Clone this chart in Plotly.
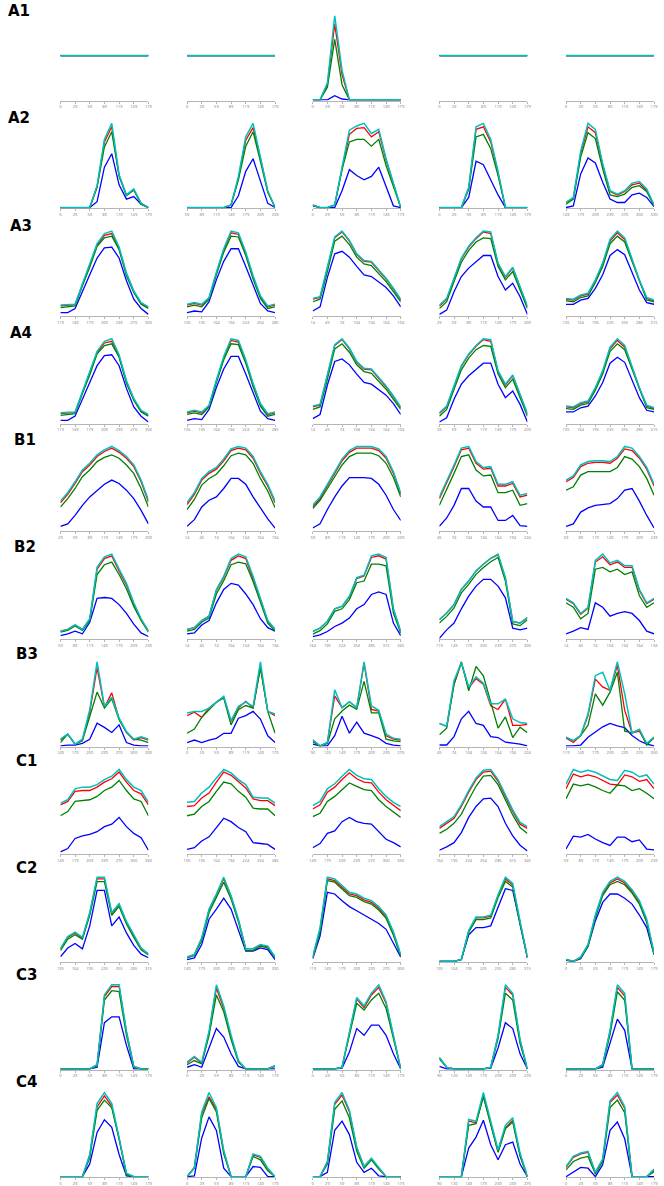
import plotly.graph_objects as go

W, H = 664, 1186

ROW_NAMES = ["A1", "A2", "A3", "A4", "B1", "B2", "B3", "C1", "C2", "C3", "C4"]
SAMPLE_IDX = [0, 1, 2, 3, 4, 5, 6, 7, 8, 9, 10, 11, 12]
TICK_POS = [0, 2, 4, 6, 8, 10, 12]
ZERO = [0, 0, 0, 0, 0, 0, 0, 0, 0, 0, 0, 0, 0]

# ---- tick label sets ----
T_0 = ["0", "29", "59", "89", "119", "149", "179"]
T_14 = ["14", "45", "74", "104", "134", "164", "194"]
T_29 = ["29", "59", "89", "119", "149", "179", "209"]
T_45 = ["45", "74", "104", "134", "164", "194", "224"]
T_59 = ["59", "89", "119", "149", "179", "209", "239"]
T_90 = ["90", "120", "149", "179", "209", "239", "270"]
T_105 = ["105", "135", "164", "194", "224", "254", "285"]
T_119 = ["119", "149", "179", "209", "239", "270", "300"]
T_135 = ["135", "164", "195", "225", "255", "285", "315"]
T_149 = ["149", "179", "209", "239", "270", "300", "330"]
T_164 = ["164", "195", "224", "254", "285", "315", "345"]

TICKS = {
    "A1": [T_0, T_0, T_0, T_0, T_0],
    "A2": [T_0, T_59, T_0, T_0, T_149],
    "A3": [T_119, T_105, T_14, T_29, T_135],
    "A4": [T_119, T_105, T_14, T_29, T_135],
    "B1": [T_29, T_14, T_59, T_45, T_59],
    "B2": [T_59, T_14, T_164, T_119, T_14],
    "B3": [T_149, T_0, T_90, T_45, T_119],
    "C1": [T_149, T_105, T_149, T_164, T_59],
    "C2": [T_135, T_149, T_119, T_135, T_0],
    "C3": [T_0, T_0, T_0, T_90, T_0],
    "C4": [T_0, T_0, T_0, T_90, T_0],
}

# ---- data: each row has 4 series (cyan, red, green, blue), 5 panels each ----
A1_CYAN = [ZERO, ZERO, [0, 0, 20, 100, 35, 0, 0, 0, 0, 0, 0, 0, 0], ZERO, ZERO]
A1_RED = [ZERO, ZERO, [0, 0, 18, 90, 30, 0, 0, 0, 0, 0, 0, 0, 0], ZERO, ZERO]
A1_GREEN = [ZERO, ZERO, [0, 0, 15, 72, 18, 0, 0, 0, 0, 0, 0, 0, 0], ZERO, ZERO]
A1_BLUE = [ZERO, ZERO, [0, 0, 0, 5, 1, 0, 0, 0, 0, 0, 0, 0, 0], ZERO, ZERO]

A2_CYAN = [
    [0, 0, 0, 0, 0, 26, 81, 100, 39, 15, 22, 5, 0],
    [0, 0, 0, 0, 0, 0, 3, 37, 84, 100, 60, 20, 0],
    [3, 0, 0, 3, 48, 92, 97, 100, 88, 93, 58, 30, 0],
    [0, 0, 0, 0, 24, 96, 100, 81, 43, 0, 0, 0, 0],
    [6, 12, 67, 100, 93, 52, 20, 16, 20, 29, 31, 22, 3],
]
A2_RED = [
    [0, 0, 0, 0, 0, 25, 78, 96, 38, 15, 21, 5, 0],
    [0, 0, 0, 0, 0, 0, 3, 35, 80, 95, 58, 19, 0],
    [3, 0, 0, 3, 46, 87, 94, 95, 84, 90, 56, 28, 0],
    [0, 0, 0, 0, 23, 93, 96, 78, 41, 0, 0, 0, 0],
    [6, 11, 64, 96, 89, 50, 19, 15, 19, 27, 29, 20, 3],
]
A2_GREEN = [
    [0, 0, 0, 0, 0, 24, 72, 90, 37, 14, 21, 4, 0],
    [0, 0, 0, 0, 0, 0, 3, 33, 73, 90, 55, 18, 0],
    [3, 0, 0, 3, 45, 78, 81, 81, 73, 81, 50, 25, 0],
    [0, 0, 0, 0, 22, 84, 87, 70, 38, 0, 0, 0, 0],
    [4, 10, 60, 89, 82, 46, 15, 13, 16, 24, 26, 19, 2],
]
A2_BLUE = [
    [0, 0, 0, 0, 0, 7, 48, 64, 27, 10, 13, 4, 0],
    [0, 0, 0, 0, 0, 0, 0, 14, 43, 58, 32, 5, 0],
    [2, 0, 0, 0, 20, 45, 38, 33, 37, 48, 25, 2, 0],
    [0, 0, 0, 0, 12, 55, 51, 33, 15, 0, 0, 0, 0],
    [0, 2, 40, 59, 53, 30, 10, 6, 6, 15, 17, 12, 1],
]

A3_CYAN = [
    [12, 12.5, 13, 37, 60, 85, 97, 100, 81, 50, 29, 15, 10],
    [13, 15, 13, 21, 51, 79, 100, 98, 75, 47, 23, 11, 13],
    [20, 22, 57, 93, 100, 89, 73, 65, 64, 54, 44, 32, 19],
    [12, 20, 44, 68, 82, 92, 100, 99, 62, 46, 57, 34, 11],
    [20, 19, 24, 26, 42, 62, 90, 100, 92, 68, 42, 21, 18],
]
A3_RED = [
    [11, 12, 12.5, 36, 59, 83, 95, 97, 79, 49, 28, 14, 9],
    [12, 14, 12, 20, 50, 77, 98, 96, 73, 45, 22, 10, 12],
    [19, 21, 56, 92, 99, 88, 72, 64, 63, 53, 43, 31, 18],
    [11, 19, 43, 67, 81, 91, 99, 97, 61, 45, 56, 33, 10],
    [19, 18, 23, 25, 41, 61, 88, 98, 90, 66, 41, 20, 17],
]
A3_GREEN = [
    [9, 10, 11, 35, 57, 82, 92, 94, 78, 47, 27, 13, 8],
    [10, 12, 10, 19, 48, 75, 94, 93, 71, 43, 20, 8, 10],
    [16, 19, 52, 88, 94, 84, 69, 61, 59, 50, 40, 28, 16],
    [8, 16, 40, 63, 77, 87, 92, 91, 58, 42, 52, 30, 8],
    [17, 16, 21, 23, 39, 58, 85, 94, 87, 64, 39, 18, 16],
]
A3_BLUE = [
    [3, 3, 8, 27, 48, 68, 80, 81, 68, 41, 19, 8, 1],
    [3, 5, 4, 16, 42, 64, 79, 79, 58, 36, 14, 5, 3],
    [5, 10, 45, 73, 76, 69, 58, 48, 46, 40, 33, 23, 10],
    [1, 6, 28, 46, 56, 63, 71, 71, 46, 30, 38, 22, 1],
    [13, 13, 18, 20, 32, 48, 71, 78, 72, 50, 30, 15, 13],
]

A4_CYAN = [
    [12, 12.5, 13, 37, 60, 85, 97, 100, 81, 50, 29, 15, 10],
    [13, 15, 13, 21, 51, 79, 100, 98, 75, 47, 23, 11, 13],
    [20, 22, 57, 93, 100, 89, 73, 65, 64, 54, 44, 32, 19],
    [12, 20, 44, 68, 82, 92, 100, 99, 62, 46, 57, 34, 11],
    [20, 19, 24, 26, 42, 62, 90, 100, 92, 68, 42, 21, 18],
]
A4_RED = [
    [11, 12, 12.5, 36, 59, 83, 95, 97, 79, 49, 28, 14, 9],
    [12, 14, 12, 20, 50, 77, 98, 96, 73, 45, 22, 10, 12],
    [19, 21, 56, 92, 99, 88, 72, 64, 63, 53, 43, 31, 18],
    [11, 19, 43, 67, 81, 91, 99, 97, 61, 45, 56, 33, 10],
    [19, 18, 23, 25, 41, 61, 88, 98, 90, 66, 41, 20, 17],
]
A4_GREEN = [
    [9, 10, 11, 35, 57, 82, 92, 94, 78, 47, 27, 13, 8],
    [10, 12, 10, 19, 48, 75, 94, 93, 71, 43, 20, 8, 10],
    [16, 19, 52, 88, 94, 84, 69, 61, 59, 50, 40, 28, 16],
    [8, 16, 40, 63, 77, 87, 92, 91, 58, 42, 52, 30, 8],
    [17, 16, 21, 23, 39, 58, 85, 94, 87, 64, 39, 18, 16],
]
A4_BLUE = [
    [3, 3, 8, 27, 48, 68, 80, 81, 68, 41, 19, 8, 1],
    [3, 5, 4, 16, 42, 64, 79, 79, 58, 36, 14, 5, 3],
    [5, 10, 45, 73, 76, 69, 58, 48, 46, 40, 33, 23, 10],
    [1, 6, 28, 46, 56, 63, 71, 71, 46, 30, 38, 22, 1],
    [13, 13, 18, 20, 32, 48, 71, 78, 72, 50, 30, 15, 13],
]

B1_CYAN = [
    [35, 45, 58, 72, 80, 90, 96, 100, 95, 88, 78, 60, 36],
    [33, 45, 62, 70, 75, 85, 97, 100, 98, 88, 70, 55, 35],
    [30, 40, 55, 70, 85, 95, 100, 100, 100, 97, 88, 70, 45],
    [40, 58, 78, 98, 100, 82, 75, 76, 55, 55, 58, 42, 44],
    [60, 65, 78, 82, 83, 83, 82, 88, 100, 98, 88, 75, 55],
]
B1_RED = [
    [33, 43, 56, 70, 78, 88, 94, 98, 93, 86, 76, 58, 34],
    [31, 43, 60, 68, 73, 83, 95, 98, 96, 86, 68, 53, 33],
    [28, 38, 53, 68, 83, 93, 98, 98, 98, 95, 86, 68, 43],
    [38, 56, 76, 96, 98, 80, 73, 74, 53, 53, 56, 40, 42],
    [58, 63, 76, 80, 81, 81, 80, 86, 97, 95, 86, 73, 53],
]
B1_GREEN = [
    [28, 38, 50, 64, 72, 82, 87, 90, 86, 78, 68, 50, 28],
    [25, 37, 54, 62, 67, 77, 89, 92, 90, 80, 62, 47, 27],
    [26, 36, 50, 64, 78, 88, 92, 92, 92, 89, 80, 63, 40],
    [30, 48, 68, 88, 90, 72, 65, 66, 45, 45, 48, 30, 32],
    [48, 52, 66, 70, 70, 70, 70, 75, 88, 85, 76, 62, 42],
]
B1_BLUE = [
    [5, 8, 18, 30, 40, 48, 55, 60, 56, 48, 38, 24, 8],
    [5, 13, 28, 36, 40, 50, 62, 62, 55, 40, 27, 14, 3],
    [3, 8, 25, 40, 53, 63, 63, 63, 62, 55, 42, 25, 12],
    [5, 15, 30, 50, 50, 35, 28, 28, 12, 12, 18, 6, 5],
    [5, 8, 22, 27, 30, 31, 32, 38, 48, 50, 35, 18, 3],
]

B2_CYAN = [
    [8, 10, 15, 10, 22, 80, 92, 95, 78, 62, 40, 22, 8],
    [10, 12, 20, 25, 55, 70, 90, 95, 92, 70, 45, 20, 10],
    [8, 12, 20, 35, 38, 50, 72, 75, 98, 100, 96, 35, 8],
    [22, 30, 40, 58, 68, 80, 88, 95, 100, 72, 20, 18, 25],
    [45, 40, 28, 35, 88, 95, 85, 88, 82, 82, 55, 40, 45],
]
B2_RED = [
    [8, 10, 15, 10, 21, 78, 90, 93, 76, 60, 39, 21, 8],
    [10, 12, 20, 25, 54, 69, 88, 93, 90, 68, 44, 19, 10],
    [8, 12, 20, 35, 38, 49, 71, 74, 96, 98, 94, 34, 8],
    [22, 30, 40, 58, 68, 80, 88, 95, 99, 71, 20, 18, 24],
    [44, 39, 27, 34, 86, 92, 83, 86, 80, 80, 54, 39, 44],
]
B2_GREEN = [
    [7, 9, 14, 9, 20, 72, 83, 86, 72, 56, 36, 20, 7],
    [8, 10, 18, 23, 50, 65, 83, 86, 84, 64, 41, 17, 8],
    [5, 9, 17, 32, 35, 46, 66, 68, 88, 88, 86, 30, 6],
    [18, 26, 36, 54, 64, 76, 84, 91, 96, 68, 17, 15, 22],
    [40, 35, 22, 28, 78, 80, 75, 78, 72, 75, 48, 35, 40],
]
B2_BLUE = [
    [3, 5, 8, 5, 18, 45, 46, 45, 38, 28, 16, 6, 2],
    [5, 6, 15, 20, 40, 55, 62, 60, 50, 38, 22, 12, 8],
    [2, 4, 8, 14, 18, 24, 35, 40, 52, 55, 52, 18, 3],
    [0, 10, 18, 35, 50, 62, 70, 70, 62, 48, 12, 10, 12],
    [5, 8, 12, 10, 40, 35, 25, 28, 30, 28, 20, 8, 5],
]

B3_CYAN = [
    [8, 14, 2, 8, 43, 100, 47, 58, 33, 17, 8, 11, 8],
    [39, 41, 41, 45, 52, 59, 30, 47, 52, 47, 100, 41, 38],
    [7, 0, 4, 66, 45, 52, 45, 99, 47, 42, 14, 9, 8],
    [24, 21, 70, 89, 63, 74, 67, 45, 45, 50, 29, 25, 24],
    [10, 6, 12, 37, 81, 85, 64, 97, 60, 15, 19, 3, 10],
]
B3_RED = [
    [7, 14, 2, 7, 40, 93, 46, 63, 32, 16, 7, 10, 7],
    [36, 40, 34, 45, 52, 58, 29, 45, 53, 45, 93, 41, 36],
    [7, 0, 4, 59, 45, 52, 45, 97, 43, 41, 12, 8, 7],
    [24, 21, 66, 89, 62, 72, 66, 43, 39, 50, 22, 22, 23],
    [9, 4, 12, 35, 77, 68, 64, 93, 41, 15, 17, 2, 9],
]
B3_GREEN = [
    [4, 14, 2, 6, 35, 64, 45, 56, 31, 16, 8, 7, 4],
    [15, 20, 34, 43, 52, 57, 25, 43, 48, 45, 93, 41, 15],
    [5, 0, 3, 32, 41, 48, 43, 76, 39, 39, 8, 6, 5],
    [12, 19, 66, 90, 59, 85, 75, 47, 19, 31, 9, 20, 14],
    [10, 6, 12, 24, 60, 47, 62, 85, 17, 15, 19, 1, 10],
]
B3_BLUE = [
    [0, 1, 1, 3, 8, 27, 22, 16, 25, 4, 1, 0, 0],
    [4, 7, 4, 7, 9, 15, 15, 33, 36, 41, 32, 12, 4],
    [2, 0, 0, 12, 35, 15, 28, 15, 12, 9, 3, 1, 0],
    [1, 1, 10, 29, 37, 24, 22, 10, 9, 4, 3, 2, 0],
    [0, 0, 1, 10, 16, 22, 26, 23, 21, 12, 6, 2, 0],
]

C1_CYAN = [
    [60, 64, 77, 79, 79, 82, 88, 92, 100, 88, 79, 75, 61],
    [61, 62, 72, 79, 90, 100, 96, 88, 82, 67, 66, 66, 60],
    [57, 62, 77, 83, 92, 100, 93, 89, 88, 77, 68, 61, 56],
    [32, 38, 44, 58, 75, 90, 99, 100, 88, 70, 52, 37, 32],
    [76, 92, 89, 91, 89, 85, 81, 80, 91, 89, 84, 86, 76],
]
C1_RED = [
    [58, 62, 74, 75, 75, 79, 85, 89, 97, 85, 75, 71, 58],
    [56, 57, 66, 72, 85, 97, 93, 85, 78, 65, 63, 63, 57],
    [53, 58, 73, 79, 88, 96, 89, 85, 84, 73, 64, 57, 51],
    [30, 36, 42, 56, 73, 88, 97, 98, 86, 68, 50, 35, 30],
    [71, 87, 84, 86, 84, 80, 76, 75, 86, 84, 79, 81, 71],
]
C1_GREEN = [
    [45, 50, 62, 63, 64, 68, 75, 79, 87, 75, 65, 62, 45],
    [45, 47, 56, 62, 74, 85, 83, 74, 67, 54, 53, 53, 45],
    [44, 48, 62, 68, 76, 84, 80, 76, 75, 64, 56, 50, 43],
    [24, 29, 36, 47, 64, 80, 92, 93, 82, 63, 46, 31, 24],
    [60, 76, 74, 76, 73, 69, 66, 75, 74, 69, 71, 66, 60],
]
C1_BLUE = [
    [2, 6, 18, 21, 23, 26, 32, 35, 43, 32, 24, 19, 4],
    [5, 7, 15, 20, 31, 42, 38, 31, 26, 13, 12, 11, 5],
    [7, 12, 24, 27, 38, 43, 38, 36, 35, 26, 17, 13, 8],
    [4, 8, 13, 25, 43, 56, 65, 66, 56, 36, 21, 10, 3],
    [5, 19, 18, 21, 16, 12, 9, 18, 18, 13, 15, 5, 4],
]

C2_CYAN = [
    [14, 28, 33, 27, 55, 95, 95, 55, 65, 45, 30, 15, 8],
    [5, 8, 28, 62, 80, 100, 78, 50, 15, 15, 20, 18, 5],
    [5, 40, 100, 98, 90, 82, 80, 75, 72, 65, 55, 35, 8],
    [0, 0, 0, 2, 35, 50, 50, 52, 75, 95, 88, 45, 5],
    [2, 0, 5, 20, 55, 82, 95, 100, 95, 85, 72, 50, 10],
]
C2_RED = [
    [14, 27, 32, 26, 54, 93, 93, 54, 64, 44, 29, 15, 8],
    [5, 8, 27, 61, 79, 98, 77, 49, 15, 15, 19, 17, 5],
    [5, 38, 98, 96, 88, 80, 78, 73, 70, 63, 53, 33, 7],
    [0, 0, 0, 2, 34, 49, 49, 51, 74, 93, 86, 44, 5],
    [2, 0, 5, 19, 54, 80, 93, 98, 93, 83, 70, 48, 9],
]
C2_GREEN = [
    [12, 25, 30, 25, 52, 90, 90, 52, 62, 42, 27, 13, 7],
    [4, 7, 25, 58, 76, 94, 74, 47, 13, 13, 18, 16, 4],
    [4, 35, 96, 94, 86, 78, 76, 71, 68, 61, 51, 31, 6],
    [0, 0, 0, 2, 33, 47, 47, 49, 72, 90, 84, 42, 4],
    [2, 0, 4, 18, 52, 78, 91, 95, 91, 81, 68, 46, 8],
]
C2_BLUE = [
    [5, 15, 20, 14, 40, 80, 80, 40, 50, 32, 18, 8, 4],
    [2, 4, 20, 50, 62, 75, 62, 38, 12, 12, 16, 14, 2],
    [3, 30, 82, 80, 72, 65, 60, 55, 50, 45, 38, 22, 5],
    [0, 0, 0, 2, 30, 38, 38, 40, 60, 82, 80, 40, 4],
    [1, 0, 3, 18, 48, 70, 80, 80, 75, 68, 55, 40, 8],
]

C3_CYAN = [
    [0, 0, 0, 0, 0, 5, 88, 100, 100, 45, 3, 0, 0],
    [8, 15, 8, 45, 100, 75, 40, 10, 0, 0, 0, 0, 4],
    [0, 0, 0, 0, 2, 45, 85, 75, 90, 100, 80, 40, 0],
    [14, 2, 0, 0, 0, 0, 0, 2, 40, 100, 90, 35, 0],
    [0, 0, 0, 0, 0, 5, 45, 98, 88, 0, 0, 0, 0],
]
C3_RED = [
    [0, 0, 0, 0, 0, 5, 86, 98, 98, 44, 3, 0, 0],
    [7, 14, 7, 43, 96, 72, 38, 9, 0, 0, 0, 0, 4],
    [0, 0, 0, 0, 2, 44, 83, 73, 88, 97, 78, 39, 0],
    [13, 2, 0, 0, 0, 0, 0, 2, 39, 97, 88, 34, 0],
    [0, 0, 0, 0, 0, 5, 44, 95, 85, 0, 0, 0, 0],
]
C3_GREEN = [
    [0, 0, 0, 0, 0, 4, 82, 93, 92, 40, 2, 0, 0],
    [5, 10, 6, 40, 88, 68, 35, 8, 0, 0, 0, 0, 3],
    [0, 0, 0, 0, 2, 40, 78, 70, 82, 90, 72, 36, 0],
    [12, 2, 0, 0, 0, 0, 0, 2, 36, 90, 82, 30, 0],
    [0, 0, 0, 0, 0, 4, 40, 90, 80, 0, 0, 0, 0],
]
C3_BLUE = [
    [0, 0, 0, 0, 0, 2, 55, 62, 62, 28, 0, 0, 0],
    [2, 5, 2, 25, 48, 38, 18, 3, 0, 0, 0, 0, 0],
    [0, 0, 0, 0, 1, 20, 48, 40, 52, 52, 40, 18, 0],
    [3, 0, 0, 0, 0, 0, 0, 1, 25, 55, 48, 18, 0],
    [0, 0, 0, 0, 0, 2, 30, 58, 45, 0, 0, 0, 0],
]

C4_CYAN = [
    [0, 0, 0, 0, 26, 86, 99, 86, 46, 4, 0, 0, 0],
    [0, 11, 77, 100, 82, 31, 0, 0, 0, 27, 24, 10, 0],
    [0, 0, 18, 88, 100, 79, 35, 12, 22, 11, 0, 0, 0],
    [0, 0, 0, 0, 68, 66, 100, 65, 32, 61, 70, 28, 0],
    [12, 24, 28, 30, 5, 21, 90, 100, 83, 0, 0, 0, 9],
]
C4_RED = [
    [0, 0, 0, 0, 25, 82, 95, 83, 45, 3, 0, 0, 0],
    [0, 11, 75, 95, 80, 30, 0, 0, 0, 26, 23, 9, 0],
    [0, 0, 17, 86, 97, 77, 34, 12, 21, 10, 0, 0, 0],
    [0, 0, 0, 0, 66, 64, 96, 63, 30, 58, 67, 26, 0],
    [11, 23, 27, 29, 5, 20, 88, 97, 81, 0, 0, 0, 8],
]
C4_GREEN = [
    [0, 0, 0, 0, 22, 78, 90, 81, 44, 2, 0, 0, 0],
    [0, 10, 70, 93, 77, 27, 0, 0, 0, 24, 20, 7, 0],
    [0, 0, 15, 80, 90, 70, 30, 10, 20, 9, 0, 0, 0],
    [0, 0, 0, 0, 61, 63, 95, 61, 29, 57, 65, 24, 0],
    [8, 18, 22, 24, 3, 18, 82, 91, 76, 0, 0, 0, 6],
]
C4_BLUE = [
    [0, 0, 0, 0, 15, 52, 67, 58, 26, 1, 0, 0, 0],
    [0, 1, 46, 71, 55, 10, 0, 0, 0, 12, 11, 0, 0],
    [0, 0, 5, 55, 66, 50, 17, 5, 10, 1, 0, 0, 0],
    [0, 0, 0, 0, 34, 47, 67, 38, 20, 38, 41, 15, 0],
    [0, 5, 11, 10, 0, 14, 55, 65, 45, 0, 0, 0, 0],
]

ROW_DATA = {
    "A1": {"c": A1_CYAN, "r": A1_RED, "g": A1_GREEN, "b": A1_BLUE},
    "A2": {"c": A2_CYAN, "r": A2_RED, "g": A2_GREEN, "b": A2_BLUE},
    "A3": {"c": A3_CYAN, "r": A3_RED, "g": A3_GREEN, "b": A3_BLUE},
    "A4": {"c": A4_CYAN, "r": A4_RED, "g": A4_GREEN, "b": A4_BLUE},
    "B1": {"c": B1_CYAN, "r": B1_RED, "g": B1_GREEN, "b": B1_BLUE},
    "B2": {"c": B2_CYAN, "r": B2_RED, "g": B2_GREEN, "b": B2_BLUE},
    "B3": {"c": B3_CYAN, "r": B3_RED, "g": B3_GREEN, "b": B3_BLUE},
    "C1": {"c": C1_CYAN, "r": C1_RED, "g": C1_GREEN, "b": C1_BLUE},
    "C2": {"c": C2_CYAN, "r": C2_RED, "g": C2_GREEN, "b": C2_BLUE},
    "C3": {"c": C3_CYAN, "r": C3_RED, "g": C3_GREEN, "b": C3_BLUE},
    "C4": {"c": C4_CYAN, "r": C4_RED, "g": C4_GREEN, "b": C4_BLUE},
}

COLORS = {"c": "#00bfbf", "r": "#ff0000", "g": "#008000", "b": "#0000ff"}
WIDTHS = {"c": 1.5, "r": 1.3, "g": 1.3, "b": 1.3}
DRAW_ORDER = ["b", "r", "g", "c"]

# ---- layout geometry (pixels) ----
COL_LEFT = [58, 186, 313, 441, 569]
PLOT_W = 89
AXIS_Y0 = 100.7
ROW_PITCH = 107.86
PLOT_H = 90
LABEL_X = [3, 3, 5, 5, 9, 9, 11, 11, 11, 11, 11]

fig = go.Figure()
layout = {}

for r, name in enumerate(ROW_NAMES):
    rowd = ROW_DATA[name]
    bottom = AXIS_Y0 + r * ROW_PITCH
    top = bottom - PLOT_H
    for c in range(5):
        k = r * 5 + c + 1
        xa = "x" if k == 1 else f"x{k}"
        ya = "y" if k == 1 else f"y{k}"
        xkey = "xaxis" if k == 1 else f"xaxis{k}"
        ykey = "yaxis" if k == 1 else f"yaxis{k}"
        mx = max(max(rowd[s][c]) for s in DRAW_ORDER)
        for s in DRAW_ORDER:
            fig.add_trace(go.Scatter(
                x=SAMPLE_IDX, y=rowd[s][c], mode="lines",
                line=dict(color=COLORS[s], width=WIDTHS[s]),
                xaxis=xa, yaxis=ya, showlegend=False, hoverinfo="skip"))
        if mx > 0:
            yr = [-0.008 * mx, 1.06 * mx]
        else:
            yr = [-1, 1]
        x0 = COL_LEFT[c]
        layout[xkey] = dict(
            domain=[x0 / W, (x0 + PLOT_W) / W], anchor=ya,
            range=[0, 12], tickmode="array", tickvals=TICK_POS,
            ticktext=TICKS[name][c], showline=True, linecolor="#b5b5b5",
            linewidth=1, ticks="outside", ticklen=2, tickwidth=0.6,
            tickcolor="#b5b5b5", tickfont=dict(size=4, color="#777777"),
            showgrid=False, zeroline=False, layer="below traces",
            fixedrange=True)
        layout[ykey] = dict(
            domain=[1 - bottom / H, 1 - top / H], anchor=xa, range=yr,
            visible=False, fixedrange=True)

annotations = []
for r, name in enumerate(ROW_NAMES):
    cy = 11.5 + r * 107.2
    annotations.append(dict(
        text=name, xref="paper", yref="paper", x=LABEL_X[r] / W, y=1 - cy / H,
        xanchor="left", yanchor="middle", showarrow=False,
        font=dict(family="DejaVu Sans", size=15, color="black", weight="bold")))

fig.update_layout(
    width=W, height=H, margin=dict(l=0, r=0, t=0, b=0),
    paper_bgcolor="white", plot_bgcolor="white",
    annotations=annotations, **layout)

fig.write_html(
    "out.html",
    config={"displayModeBar": False},
    post_script="document.body.style.margin='0';document.body.style.overflow='hidden';",
)
